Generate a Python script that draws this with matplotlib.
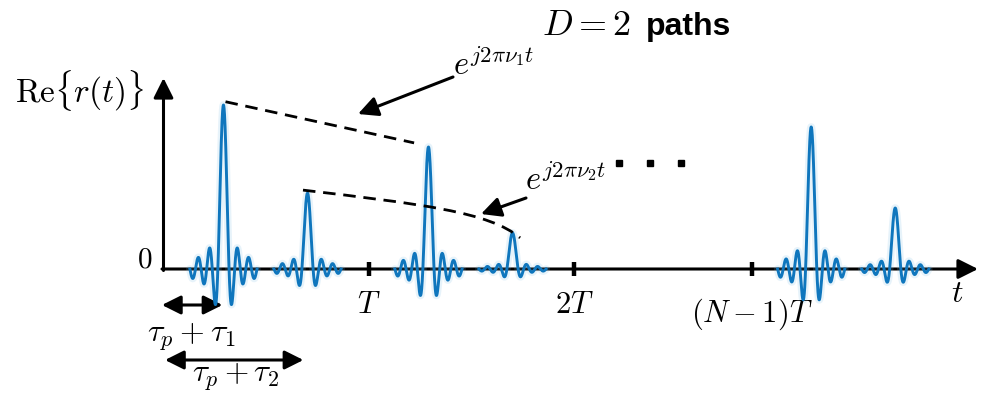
import numpy as np
import matplotlib.pyplot as plt
from matplotlib.path import Path
from matplotlib.patches import PathPatch

plt.rcParams['mathtext.fontset'] = 'cm'

# Received signal: one sinc pulse per path, repeated every symbol period T.
# Time is in units of T, amplitude relative to the strongest echo.
block_starts = [0.0, 1.0, 2.867]                 # blocks 0, 1 and N-1
tick_positions = [1.0, 2.0, 2.867]
tick_labels = ['$T$', '$2T$', '$(N-1)T$']
path_delays = [0.29, 0.70]                       # tau_p + tau_1, tau_p + tau_2
path1_amps = [1.00, 0.744, 0.866]
path2_amps = [0.463, 0.22, 0.372]
sinc_width = 0.0273
sinc_span = 6

BLUE = '#0f76bd'

W, H = 985, 396
X0, Y0 = 164, 269          # origin of the time axis on the canvas
T_PX, A_PX = 205, 164      # canvas size of one period / unit amplitude

fig = plt.figure(figsize=(W / 100, H / 100), dpi=100)
ax = fig.add_axes([0, 0, 1, 1])
ax.set_xlim(-X0 / T_PX, (W - X0) / T_PX)
ax.set_ylim((Y0 - H) / A_PX, Y0 / A_PX)
ax.axis('off')


def at(px, py):
    """Canvas pixel position -> axes data coordinates."""
    return ((px - X0) / T_PX, (Y0 - py) / A_PX)


head = '-|>,head_length=0.6,head_width=0.3'
both = '<|-|>,head_length=0.6,head_width=0.3'


def arrow(tip, tail, style=head, lw=2.2, ms=20):
    ax.annotate('', xy=tip, xytext=tail,
                arrowprops=dict(arrowstyle=style, lw=lw, color='k',
                                mutation_scale=ms, shrinkA=0, shrinkB=0))


# axes
arrow(at(978, 269), at(162, 269))
arrow(at(163.5, 78), at(163.5, 270.5))

# period ticks
_, ytk0 = at(0, 262)
_, ytk1 = at(0, 276)
for b in tick_positions:
    ax.plot([b, b], [ytk0, ytk1], color='k', lw=3.2, solid_capstyle='butt')

# pulses
u = np.linspace(-sinc_span * sinc_width, sinc_span * sinc_width, 600)
peaks = []
for b, a1, a2 in zip(block_starts, path1_amps, path2_amps):
    row = []
    for d, a in zip(path_delays, (a1, a2)):
        c = b + d
        y = a * np.sinc(u / sinc_width)
        ax.plot(c + u, y, color='#7fbde6', lw=5.5, alpha=0.18,
                solid_capstyle='round', zorder=3)
        ax.plot(c + u, y, color=BLUE, lw=2.1, zorder=4)
        row.append((c, a))
    peaks.append(row)

# Doppler envelopes
(c10, a10), (c20, a20) = peaks[0]
(c11, a11), (c21, a21) = peaks[1]
ax.plot([c10 + 0.01, c11 - 0.07], [a10 + 0.02, a11 + 0.025], color='k',
        lw=2.0, dashes=(4.5, 2.8), zorder=5)

p0 = np.array([c20 - 0.022, a20 + 0.018])
p3 = np.array([c21 + 0.037, a21 - 0.03])
dp = p3 - p0
p1 = p0 + dp * np.array([0.54, 0.29])
p2 = p0 + dp * np.array([0.86, 0.457])
env2 = Path([p0, p1, p2, p3], [Path.MOVETO, Path.CURVE4, Path.CURVE4, Path.CURVE4])
ax.add_patch(PathPatch(env2, fill=False, color='k', lw=2.0,
                       linestyle=(0, (4.5, 2.8)), zorder=5))

arrow(at(358, 114), at(453, 77))
arrow(at(481, 214), at(526, 198))

# continuation dots
dots_x = [at(px, 0)[0] for px in (619, 650, 681)]
ax.plot(dots_x, [at(0, 163)[1]] * 3, 's', color='k', ms=4.2)

# delay markers
_, yd1 = at(0, 305)
_, yd2 = at(0, 360)
arrow((path_delays[0] - 0.005, yd1), (-0.01, yd1), style=both, lw=2.2, ms=19)
arrow((path_delays[1] - 0.02, yd2), (0.005, yd2), style=both, lw=2.2, ms=19)

# text
ax.text(*at(145, 267), '$0$', fontsize=21, ha='center', va='baseline')
for b, lab in zip(tick_positions, tick_labels):
    yb = 313 if lab != '$(N-1)T$' else 322
    ax.text(b, at(0, yb)[1], lab, fontsize=22, ha='center', va='baseline')
ax.text(*at(957, 302), '$t$', fontsize=23, ha='center', va='baseline')
ax.text(*at(15, 103), r'$\mathrm{Re}\{r(t)\}$', fontsize=24, ha='left', va='baseline')
ax.text(*at(542, 35), '$D=2$', fontsize=26, ha='left', va='baseline')
ax.text(*at(646, 35), 'paths', fontsize=23, fontweight='bold',
        family='Liberation Sans', ha='left', va='baseline')
ax.text(*at(453, 75), r'$e^{j2\pi\nu_1 t}$', fontsize=23.5, ha='left', va='baseline')
ax.text(*at(525, 190), r'$e^{j2\pi\nu_2 t}$', fontsize=23.5, ha='left', va='baseline')
ax.text(*at(147, 342), r'$\tau_p+\tau_1$', fontsize=23, ha='left', va='baseline')
ax.text(*at(192, 382), r'$\tau_p+\tau_2$', fontsize=22.5, ha='left', va='baseline')

fig.savefig('out.png', dpi=100)
